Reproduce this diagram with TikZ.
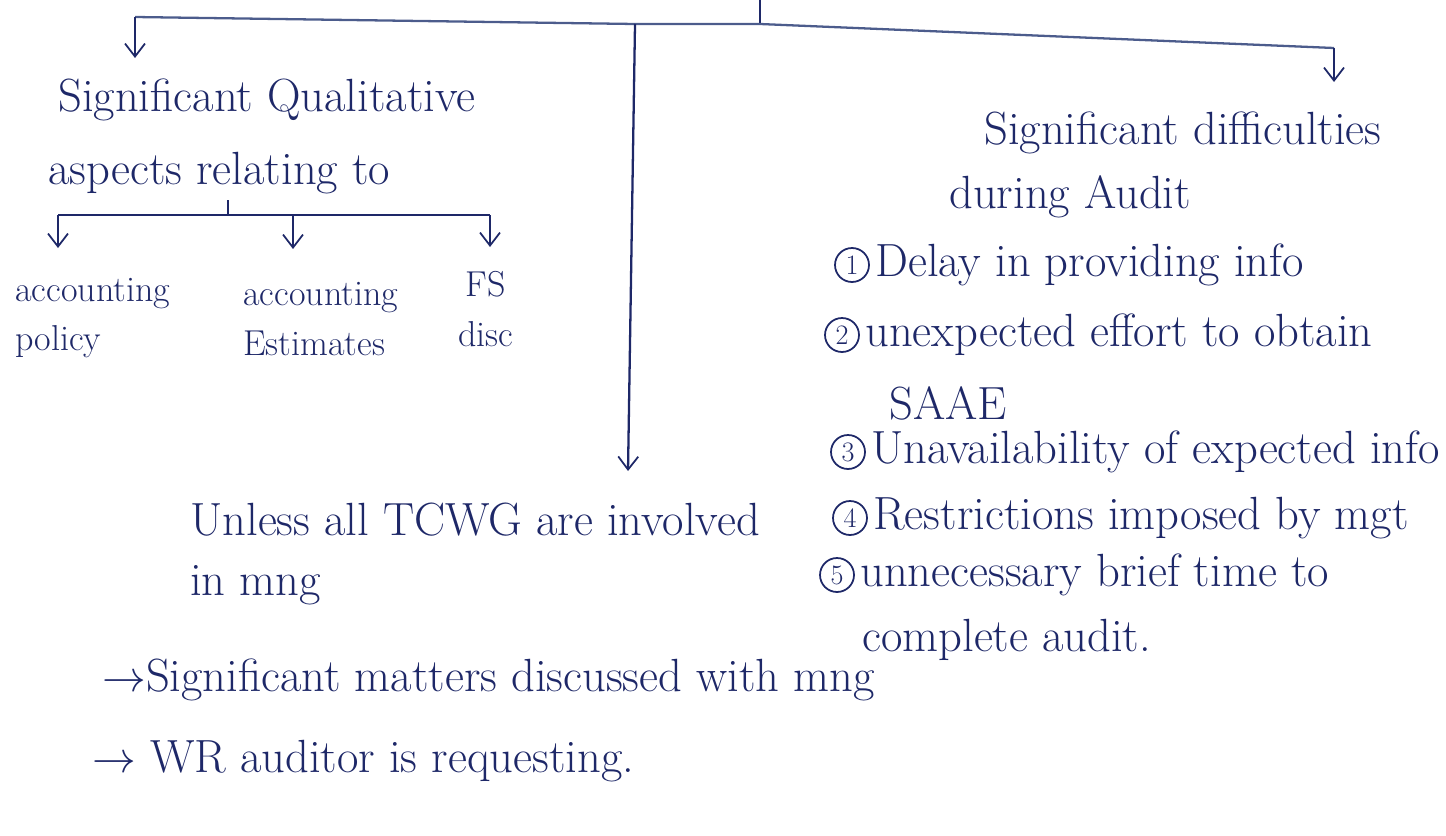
\documentclass[tikz,border=0pt]{standalone}
\usepackage{amsmath}
\usetikzlibrary{arrows.meta, positioning}
\definecolor{ink}{HTML}{1E2868}
\definecolor{pale}{HTML}{4C5C8C}

\begin{document}
\begin{tikzpicture}[
  x=0.02cm, y=-0.02cm,
  >={Straight Barb[length=2.6mm, width=4mm, line width=1pt]},
  txt/.style={font=\fontsize{26.5}{29}\selectfont, text=ink, anchor=west, inner sep=0pt},
  leaf/.style={txt, font=\fontsize{20.5}{28}\selectfont},
  numc/.style={circle, draw=ink, line width=1pt, text=ink, font=\fontsize{16}{16}\selectfont, inner sep=0pt, minimum size=6.8mm},
  lnk/.style={draw=ink, line width=1.3pt},
  tick/.style={lnk, ->},
]

% Page
\useasboundingbox (0,0) rectangle (1446,835);

% === Top bracket ===
\coordinate (root) at (760,0);
\coordinate (rJ) at (760,24);
\coordinate (bL) at (135,17);
\coordinate (bM) at (635,24);
\coordinate (bR) at (1334,48);
\coordinate (tL) at (135,58);
\coordinate (tM) at (628,471);
\coordinate (tR) at (1334,82);

\draw[lnk] (root) -- (rJ);
\draw[pale, line width=1.3pt] (bL) -- (bM) -- (rJ) -- (bR);
\draw[tick] (bL) -- (tL);
\draw[tick] (bM) -- (tM);
\draw[tick] (bR) -- (tR);

% === Left branch ===
\node[txt] (qualA) at (58,100) {Significant Qualitative};
\node[txt] (qualB) at (48,173) {aspects relating to};

\coordinate (sJ) at (228,200);
\coordinate (sL) at (58,215);
\coordinate (sR) at (490,215);
\coordinate (sM) at (293,215);
\draw[lnk] (sJ) -- (sJ |- sL);
\draw[lnk] (sL) -- (sR);
\draw[tick] (sL) -- ++(0,33) coordinate (aL);
\draw[tick] (sM) -- ++(0,34) coordinate (aM);
\draw[tick] (sR) -- ++(0,32) coordinate (aR);

\node[leaf, align=left] (pol) at (15,318) {accounting\\policy};
\node[leaf, align=left] (est) at (243,319) {accounting\\Estimates};
\node[leaf, align=center] (fsd) at (458,309) {FS\\disc};

% === Right branch ===
\node[txt] (diffA) at (984,133) {Significant difficulties};
\node[txt] (diffB) at (949,197) {during Audit};

\node[numc] (n1) at (852,265) {1};
\node[txt, right=0.1cm of n1] (d1) {Delay in providing info};
\node[numc] (n2) at (842,335) {2};
\node[txt, right=0.1cm of n2] (d2) {unexpected effort to obtain};
\node[txt] (d2b) at (889,403) {SAAE};
\node[numc] (n3) at (848,452) {3};
\node[txt, right=0.1cm of n3] (d3) {Unavailability of expected info};
\node[numc] (n4) at (850,518) {4};
\node[txt, right=0.1cm of n4] (d4) {Restrictions imposed by mgt};
\node[numc] (n5) at (837,575) {5};
\node[txt, right=0.1cm of n5] (d5) {unnecessary brief time to};
\node[txt] (d5b) at (862,640) {complete audit.};

% === Middle branch ===
\node[txt] (unlA) at (190,520) {Unless all TCWG are involved};
\node[txt] (unlB) at (190,585) {in mng};
\node[txt] (matA) at (102,680) {$\rightarrow$Significant matters discussed with mng};
\node[txt] (matB) at (92,761) {$\rightarrow$ WR auditor is requesting.};

\end{tikzpicture}
\end{document}
